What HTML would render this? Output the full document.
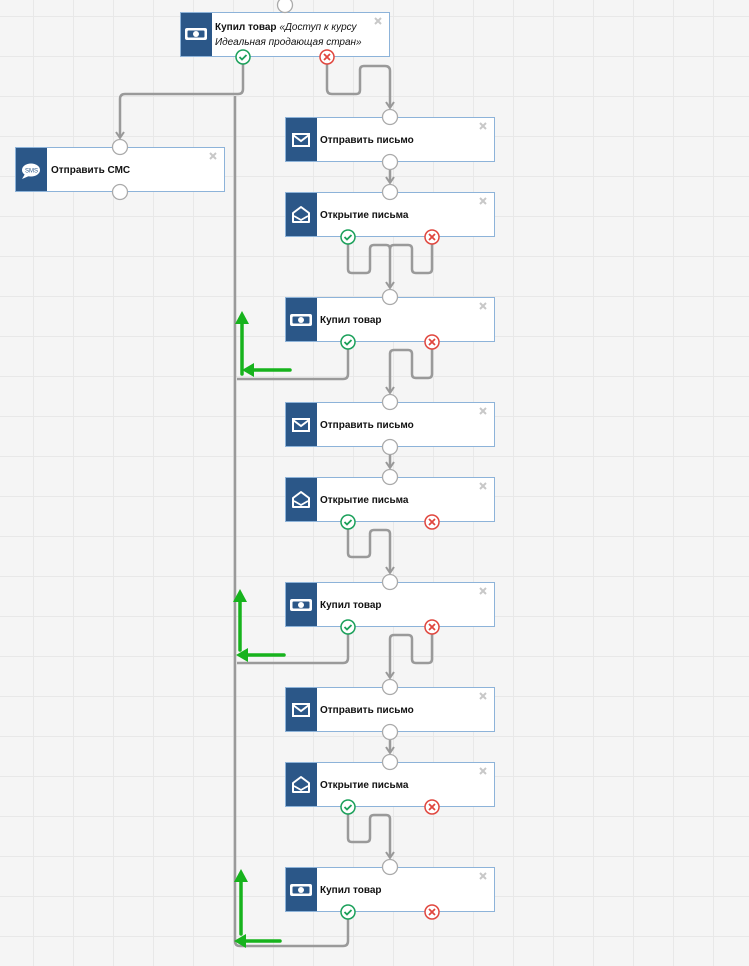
<!DOCTYPE html>
<html><head><meta charset="utf-8"><style>
html,body{margin:0;padding:0;}
body{width:749px;height:966px;overflow:hidden;background:#f5f5f5;
background-image:linear-gradient(to right,#e8e8e8 1px,transparent 1px),linear-gradient(to bottom,#e8e8e8 1px,transparent 1px);
background-size:40px 40px;background-position:33px 16px;}
svg{position:absolute;left:0;top:0;}
text{font-family:"Liberation Sans",sans-serif;font-size:10px;fill:#111;}
</style></head><body>
<svg width="749" height="966" viewBox="0 0 749 966">
<defs>
<g id="node">
<rect x="0.5" y="0.5" width="209" height="44" fill="#fff" stroke="#8db3d9"/>
<rect x="1" y="1" width="31" height="43" fill="#2b5788"/>
<path d="M195 6l6 6M201 6l-6 6" stroke="#c8c8c8" stroke-width="2"/>
</g>
<g id="money"><rect x="-11" y="-6" width="22" height="12" rx="2" fill="#fff"/><rect x="-8.5" y="-3.5" width="17" height="7" rx="1" fill="#2b5788"/><circle r="3" fill="#fff"/></g>
<g id="mail"><rect x="-8" y="-6" width="16" height="12" fill="none" stroke="#fff" stroke-width="2"/><path d="M-8 -5l8 6 8-6" fill="none" stroke="#fff" stroke-width="2"/></g>
<g id="omail"><path d="M-8 -2v9h16v-9l-8-6z" fill="none" stroke="#fff" stroke-width="2" stroke-linejoin="round"/><path d="M-7 1l7 4 7-4" fill="none" stroke="#fff" stroke-width="1.8"/></g>
<g id="port"><circle r="7.5" fill="#fff" stroke="#aaa" stroke-width="1.3"/></g>
<g id="ok"><circle r="7" fill="#fff" stroke="#1aa05a" stroke-width="1.5"/><path d="M-3.5 0l2.5 2.5 4.5-4.5" fill="none" stroke="#1aa05a" stroke-width="1.8"/></g>
<g id="no"><circle r="7" fill="#fff" stroke="#e0463e" stroke-width="1.5"/><path d="M-3 -3l6 6M3 -3l-6 6" stroke="#e0463e" stroke-width="1.8"/></g>
<path id="ah" d="M-4 -6L0 0 4 -6" fill="none" stroke="#999" stroke-width="2"/>
</defs>

<g fill="none" stroke="#9a9a9a" stroke-width="2.5" stroke-linejoin="round">
<path d="M243 64V89q0 5-5 5H125q-5 0-5 5V137"/>
<path d="M235 96V941q0 5 5 5H343q5 0 5-5V918"/>
<path d="M327 64V89q0 5 5 5H356q4 0 4-4V70q0-4 4-4H385q5 0 5 5V107"/>
<path d="M390 161V182"/><path d="M390 446V467"/><path d="M390 731V752"/>
<path d="M348 244V269q0 4 4 4H366q4 0 4-4V249q0-4 4-4H386q4 0 4 4V287"/>
<path d="M432 244V269q0 4-4 4H416q-4 0-4-4V249q0-4-4-4H394q-4 0-4 4"/>
<path d="M348 349V374q0 5-5 5H237"/>
<path d="M432 349V374q0 4-4 4H416q-4 0-4-4V354q0-4-4-4H394q-4 0-4 4V392"/>
<path d="M348 529V553q0 4 4 4H366q4 0 4-4V534q0-4 4-4H386q4 0 4 4V572"/>
<path d="M348 634V658q0 5-5 5H237"/>
<path d="M432 634V659q0 4-4 4H416q-4 0-4-4V639q0-4-4-4H394q-4 0-4 4V677"/>
<path d="M348 814V838q0 4 4 4H366q4 0 4-4V819q0-4 4-4H386q4 0 4 4V857"/>
</g>
<use href="#ah" x="120" y="138"/><use href="#ah" x="390" y="108"/>
<use href="#ah" x="390" y="183"/><use href="#ah" x="390" y="288"/><use href="#ah" x="390" y="393"/>
<use href="#ah" x="390" y="468"/><use href="#ah" x="390" y="573"/><use href="#ah" x="390" y="678"/>
<use href="#ah" x="390" y="753"/><use href="#ah" x="390" y="858"/>

<use href="#node" x="180" y="12"/>
<use href="#money" x="196" y="34"/>
<text x="215" y="30" font-weight="bold">Купил товар <tspan font-style="italic" font-weight="normal">«Доступ к курсу</tspan></text>
<text x="215" y="45" font-style="italic">Идеальная продающая стран»</text>
<use href="#port" x="285" y="5"/><use href="#ok" x="243" y="57"/><use href="#no" x="327" y="57"/>

<use href="#node" x="15" y="147"/>
<g transform="translate(31,170)"><ellipse rx="9" ry="6.5" fill="#fff"/><path d="M-6 4l-3 5 7-3z" fill="#fff"/><text x="-6" y="2.5" style="font-size:6px;fill:#2b5788">SMS</text></g>
<text x="51" y="173" font-weight="bold">Отправить СМС</text>
<use href="#port" x="120" y="147"/><use href="#port" x="120" y="192"/>

<g>
<use href="#node" x="285" y="117"/><use href="#mail" x="301" y="140"/>
<text x="320" y="143" font-weight="bold">Отправить письмо</text>
<use href="#port" x="390" y="117"/><use href="#port" x="390" y="162"/>

<use href="#node" x="285" y="192"/><use href="#omail" x="301" y="215"/>
<text x="320" y="218" font-weight="bold">Открытие письма</text>
<use href="#port" x="390" y="192"/><use href="#ok" x="348" y="237"/><use href="#no" x="432" y="237"/>

<use href="#node" x="285" y="297"/><use href="#money" x="301" y="320"/>
<text x="320" y="323" font-weight="bold">Купил товар</text>
<use href="#port" x="390" y="297"/><use href="#ok" x="348" y="342"/><use href="#no" x="432" y="342"/>

<use href="#node" x="285" y="402"/><use href="#mail" x="301" y="425"/>
<text x="320" y="428" font-weight="bold">Отправить письмо</text>
<use href="#port" x="390" y="402"/><use href="#port" x="390" y="447"/>

<use href="#node" x="285" y="477"/><use href="#omail" x="301" y="500"/>
<text x="320" y="503" font-weight="bold">Открытие письма</text>
<use href="#port" x="390" y="477"/><use href="#ok" x="348" y="522"/><use href="#no" x="432" y="522"/>

<use href="#node" x="285" y="582"/><use href="#money" x="301" y="605"/>
<text x="320" y="608" font-weight="bold">Купил товар</text>
<use href="#port" x="390" y="582"/><use href="#ok" x="348" y="627"/><use href="#no" x="432" y="627"/>

<use href="#node" x="285" y="687"/><use href="#mail" x="301" y="710"/>
<text x="320" y="713" font-weight="bold">Отправить письмо</text>
<use href="#port" x="390" y="687"/><use href="#port" x="390" y="732"/>

<use href="#node" x="285" y="762"/><use href="#omail" x="301" y="785"/>
<text x="320" y="788" font-weight="bold">Открытие письма</text>
<use href="#port" x="390" y="762"/><use href="#ok" x="348" y="807"/><use href="#no" x="432" y="807"/>

<use href="#node" x="285" y="867"/><use href="#money" x="301" y="890"/>
<text x="320" y="893" font-weight="bold">Купил товар</text>
<use href="#port" x="390" y="867"/><use href="#ok" x="348" y="912"/><use href="#no" x="432" y="912"/>
</g>

<g stroke="#17b31d" stroke-width="3.5" stroke-linecap="round" fill="none">
<path d="M242 374V322"/><path d="M290 370H252"/>
<path d="M240 650V600"/><path d="M284 655H246"/>
<path d="M241 934V880"/><path d="M280 941H244"/>
</g>
<g fill="#17b31d">
<path d="M235 324L242 311 249 324z"/><path d="M254 363L242 370 254 377z"/>
<path d="M233 602L240 589 247 602z"/><path d="M248 648L236 655 248 662z"/>
<path d="M234 882L241 869 248 882z"/><path d="M246 934L234 941 246 948z"/>
</g>
</svg>
</body></html>
